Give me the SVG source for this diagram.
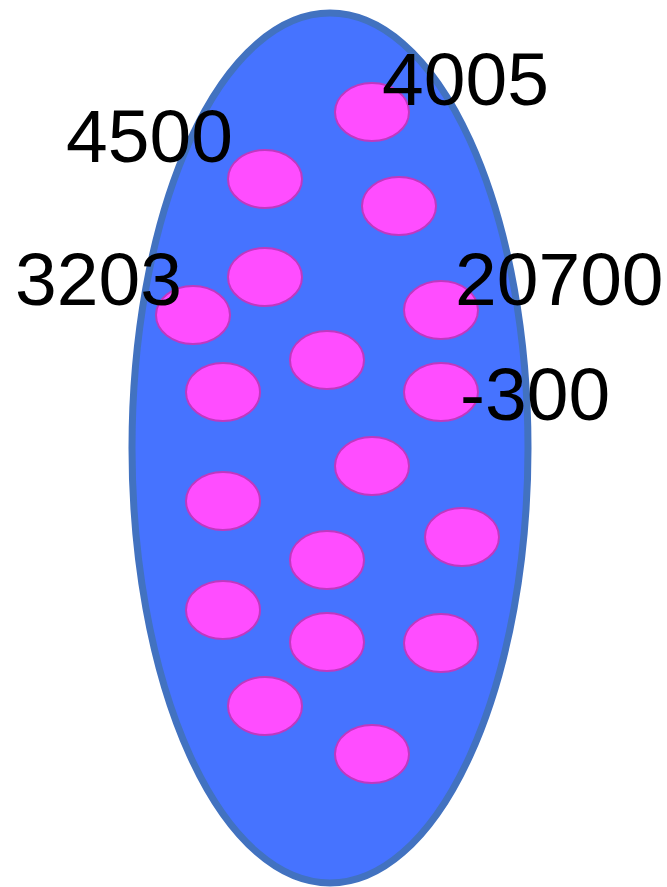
<svg xmlns="http://www.w3.org/2000/svg" width="667" height="887" viewBox="0 0 667 887">
<style>
.cell{fill:#4673FF;stroke:#4272C0;stroke-width:7}
.dot{fill:#FF4DFF;stroke:#C038C0;stroke-width:2}
.lbl{font-family:"Liberation Sans",Arial,sans-serif;font-size:75px;fill:#000}
</style>
<rect width="667" height="887" fill="#fff"/>
<g id="cell"><ellipse class="cell" cx="330" cy="448" rx="198" ry="435"/></g>
<g id="dots">
<ellipse class="dot" cx="372" cy="112" rx="37" ry="29"/>
<ellipse class="dot" cx="265" cy="179" rx="37" ry="29"/>
<ellipse class="dot" cx="399" cy="206" rx="37" ry="29"/>
<ellipse class="dot" cx="265" cy="277" rx="37" ry="29"/>
<ellipse class="dot" cx="193" cy="315" rx="37" ry="29"/>
<ellipse class="dot" cx="441" cy="310" rx="37" ry="29"/>
<ellipse class="dot" cx="327" cy="360" rx="37" ry="29"/>
<ellipse class="dot" cx="223" cy="392" rx="37" ry="29"/>
<ellipse class="dot" cx="441" cy="392" rx="37" ry="29"/>
<ellipse class="dot" cx="372" cy="466" rx="37" ry="29"/>
<ellipse class="dot" cx="223" cy="501" rx="37" ry="29"/>
<ellipse class="dot" cx="462" cy="537" rx="37" ry="29"/>
<ellipse class="dot" cx="327" cy="560" rx="37" ry="29"/>
<ellipse class="dot" cx="223" cy="610" rx="37" ry="29"/>
<ellipse class="dot" cx="327" cy="642" rx="37" ry="29"/>
<ellipse class="dot" cx="441" cy="643" rx="37" ry="29"/>
<ellipse class="dot" cx="265" cy="706" rx="37" ry="29"/>
<ellipse class="dot" cx="372" cy="754" rx="37" ry="29"/>
</g>
<g id="labels">
<text class="lbl" x="382" y="105">4005</text>
<text class="lbl" x="66" y="162">4500</text>
<text class="lbl" x="15" y="305">3203</text>
<text class="lbl" x="455" y="305">20700</text>
<text class="lbl" x="460" y="420">-300</text>
</g>
</svg>
